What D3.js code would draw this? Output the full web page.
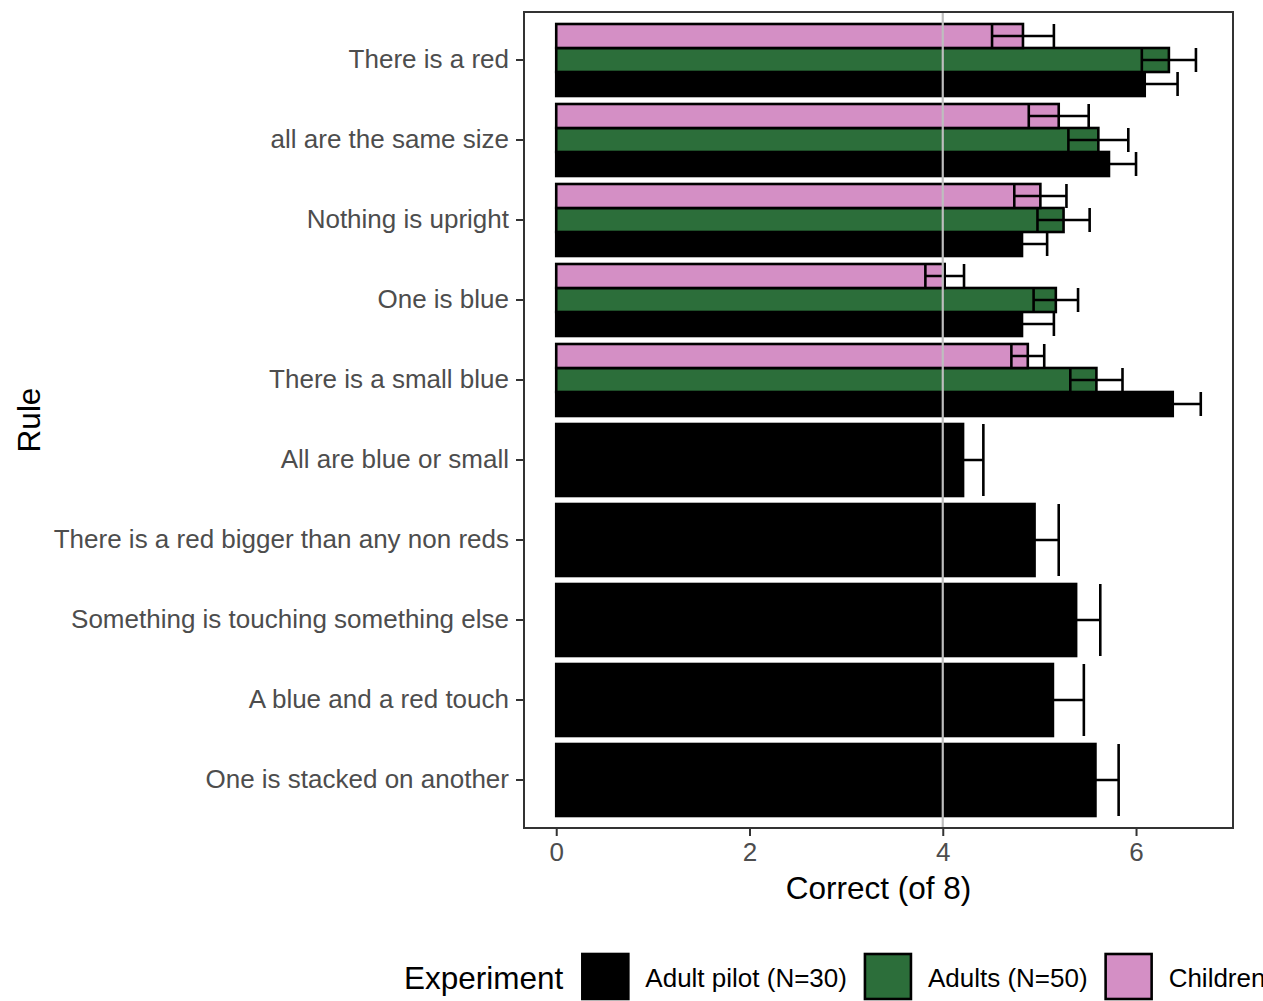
<!DOCTYPE html>
<html>
<head>
<meta charset="utf-8">
<script src="https://cdn.jsdelivr.net/npm/d3@7"></script>
<style>
  body { margin: 0; background: #fff; }
  text { font-family: "Liberation Sans", Arial, Helvetica, sans-serif; }
</style>
</head>
<body>
<svg id="chart" width="1263" height="1001"></svg>
<script>
// Rules, listed top to bottom
const rules = [
  "There is a red",
  "all are the same size",
  "Nothing is upright",
  "One is blue",
  "There is a small blue",
  "All are blue or small",
  "There is a red bigger than any non reds",
  "Something is touching something else",
  "A blue and a red touch",
  "One is stacked on another"
];

// Experiment groups (legend order) and fills
const experiments = ["Adult pilot (N=30)", "Adults (N=50)", "Children"];
const fills = ["#000000", "#2C6E3A", "#D48FC5"];

// Mean correct (of 8) and standard error per rule; null = rule not run
const pilotMean   = [6.09, 5.72, 4.82, 4.82, 6.38, 4.21, 4.95, 5.38, 5.14, 5.58];
const pilotSE     = [0.34, 0.28, 0.26, 0.33, 0.29, 0.21, 0.25, 0.25, 0.32, 0.24];
const adultsMean  = [6.34, 5.61, 5.25, 5.17, 5.59, null, null, null, null, null];
const adultsSE    = [0.28, 0.31, 0.27, 0.23, 0.27, null, null, null, null, null];
const childMean   = [4.83, 5.20, 5.01, 4.02, 4.88, null, null, null, null, null];
const childSE     = [0.32, 0.31, 0.27, 0.20, 0.17, null, null, null, null, null];

const xTicks = [0, 2, 4, 6];
const chanceLevel = 4;

const means = [pilotMean, adultsMean, childMean];
const ses = [pilotSE, adultsSE, childSE];

// Long-format rows
const rows = [];
rules.forEach((rule, i) => {
  experiments.forEach((exp, k) => {
    if (means[k][i] != null) {
      rows.push({ rule, exp, k, mean: means[k][i], se: ses[k][i] });
    }
  });
});

const svg = d3.select("#chart");
svg.append("rect").attr("width", 1263).attr("height", 1001).attr("fill", "#fff");

const panel = { left: 524, right: 1233, top: 12, bottom: 828 };
const axisFont = 26, titleFont = 31.5;

// x: value axis with 5% expansion on both sides
const xMax = d3.max(rows, d => d.mean + d.se);
const pad = 0.05 * xMax;
const x = d3.scaleLinear().domain([-pad, xMax + pad]).range([panel.left, panel.right]);

// y: one band per rule, bars take 90% of each band
const y = d3.scaleBand().domain(rules).range([panel.top, panel.bottom])
  .paddingInner(0).paddingOuter(0.1);
const barW = y.bandwidth() * 0.9;

// dodge within each band: Children on top, Adult pilot at bottom
function dodge(rule) {
  const present = rows.filter(r => r.rule === rule).map(r => r.exp).reverse();
  return d3.scaleBand().domain(present)
    .range([y(rule) + (y.bandwidth() - barW) / 2, y(rule) + (y.bandwidth() + barW) / 2]);
}
const dodgeScales = new Map(rules.map(r => [r, dodge(r)]));

const plot = svg.append("g");

// bars
plot.selectAll("rect.bar").data(rows).join("rect")
  .attr("class", "bar")
  .attr("x", x(0))
  .attr("y", d => dodgeScales.get(d.rule)(d.exp))
  .attr("width", d => x(d.mean) - x(0))
  .attr("height", d => dodgeScales.get(d.rule).bandwidth())
  .attr("fill", d => fills[d.k])
  .attr("stroke", "#000")
  .attr("stroke-width", 2.6);

// error bars
const eb = plot.selectAll("g.err").data(rows).join("g").attr("class", "err")
  .attr("stroke", "#000").attr("stroke-width", 2.6).attr("fill", "none");
eb.append("line")
  .attr("x1", d => x(d.mean - d.se)).attr("x2", d => x(d.mean + d.se))
  .attr("y1", d => dodgeScales.get(d.rule)(d.exp) + dodgeScales.get(d.rule).bandwidth() / 2)
  .attr("y2", d => dodgeScales.get(d.rule)(d.exp) + dodgeScales.get(d.rule).bandwidth() / 2);
[-1, 1].forEach(s => {
  eb.append("line")
    .attr("x1", d => x(d.mean + s * d.se)).attr("x2", d => x(d.mean + s * d.se))
    .attr("y1", d => dodgeScales.get(d.rule)(d.exp))
    .attr("y2", d => dodgeScales.get(d.rule)(d.exp) + dodgeScales.get(d.rule).bandwidth());
});

// chance reference line
plot.append("line")
  .attr("x1", x(chanceLevel)).attr("x2", x(chanceLevel))
  .attr("y1", panel.top).attr("y2", panel.bottom)
  .attr("stroke", "#BEBEBE").attr("stroke-width", 2.2);

// panel border
svg.append("rect")
  .attr("x", panel.left).attr("y", panel.top)
  .attr("width", panel.right - panel.left).attr("height", panel.bottom - panel.top)
  .attr("fill", "none").attr("stroke", "#333333").attr("stroke-width", 2);

// x axis
const xAxis = svg.append("g").attr("transform", `translate(0,${panel.bottom})`)
  .call(d3.axisBottom(x).tickValues(xTicks).tickFormat(d3.format("d")).tickSize(8).tickPadding(7));
xAxis.select(".domain").remove();
xAxis.selectAll(".tick line").attr("stroke", "#333333").attr("stroke-width", 2);
xAxis.selectAll(".tick text").attr("fill", "#4D4D4D").attr("font-size", axisFont)
  .attr("font-family", "Liberation Sans, Arial, sans-serif");

// y axis
const yAxis = svg.append("g").attr("transform", `translate(${panel.left},0)`)
  .call(d3.axisLeft(y).tickSize(8).tickPadding(7));
yAxis.select(".domain").remove();
yAxis.selectAll(".tick line").attr("stroke", "#333333").attr("stroke-width", 2);
yAxis.selectAll(".tick text").attr("fill", "#4D4D4D").attr("font-size", axisFont)
  .attr("font-family", "Liberation Sans, Arial, sans-serif");

// axis titles
svg.append("text")
  .attr("x", (panel.left + panel.right) / 2).attr("y", 899)
  .attr("text-anchor", "middle").attr("font-size", titleFont).attr("fill", "#000")
  .text("Correct (of 8)");
svg.append("text")
  .attr("transform", `translate(40,${(panel.top + panel.bottom) / 2}) rotate(-90)`)
  .attr("text-anchor", "middle").attr("font-size", titleFont).attr("fill", "#000")
  .text("Rule");

// legend
const legend = svg.append("g");
const title = legend.append("text").attr("x", 404).attr("y", 989)
  .attr("font-size", titleFont).attr("fill", "#000").text("Experiment");
let cx = 404 + title.node().getComputedTextLength() + 18;
const keySize = 46;
experiments.forEach((exp, k) => {
  legend.append("rect")
    .attr("x", cx + 1).attr("y", 954).attr("width", keySize).attr("height", keySize - 1)
    .attr("fill", fills[k]).attr("stroke", "#000").attr("stroke-width", 2.6);
  const t = legend.append("text").attr("x", cx + keySize + 18).attr("y", 987)
    .attr("font-size", axisFont).attr("fill", "#000").text(exp);
  cx += keySize + 18 + t.node().getComputedTextLength() + 17;
});
</script>
</body>
</html>
